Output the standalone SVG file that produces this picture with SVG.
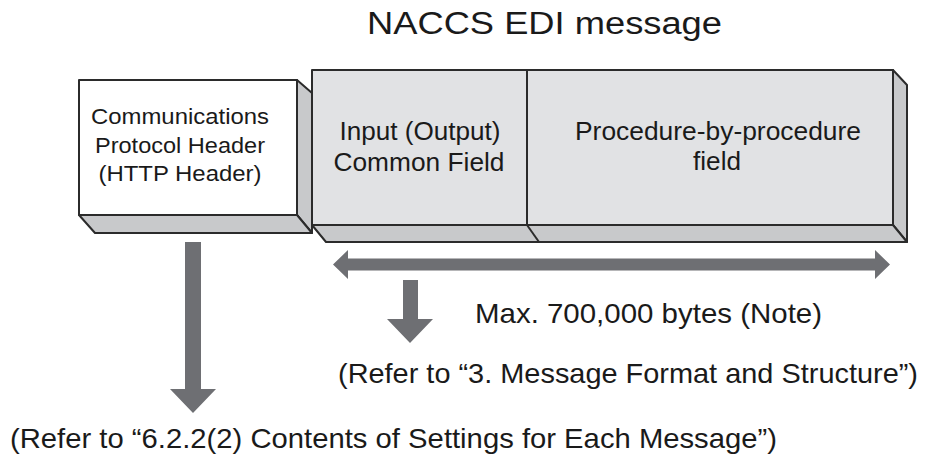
<svg xmlns="http://www.w3.org/2000/svg" width="927" height="456" viewBox="0 0 927 456">
<style>
.t{font-family:"Liberation Sans",Arial,sans-serif;fill:#1a1a1a}
.front{fill:#e1e2e4;stroke:#2b2b2b;stroke-width:2;stroke-linejoin:round}
.white{fill:#ffffff;stroke:#2b2b2b;stroke-width:2;stroke-linejoin:round}
.side{fill:#c8c9cb;stroke:#2b2b2b;stroke-width:2;stroke-linejoin:round}
.arrow{fill:#6e6f73}
</style>
<rect width="927" height="456" fill="#ffffff"/>
<text class="t" x="367" y="34" font-size="31" textLength="355" lengthAdjust="spacingAndGlyphs">NACCS EDI message</text>
<g id="http-header">
<polygon class="side" points="297,80 312,93 312,233 297,215"/>
<polygon class="side" points="79,215 297,215 312,233 95,233"/>
<rect class="white" x="79" y="80" width="218" height="135"/>
<g class="t" font-size="22" text-anchor="middle">
<text x="180" y="124" textLength="178" lengthAdjust="spacingAndGlyphs">Communications</text>
<text x="180" y="153" textLength="170" lengthAdjust="spacingAndGlyphs">Protocol Header</text>
<text x="180" y="181" textLength="163" lengthAdjust="spacingAndGlyphs">(HTTP Header)</text>
</g>
</g>
<g id="edi-message">
<polygon class="side" points="893,70 907,85 907,242 893,225"/>
<polygon class="side" points="312,225 893,225 907,242 326,242"/>
<line x1="527" y1="225" x2="539" y2="242" stroke="#2b2b2b" stroke-width="2"/>
<g id="common-field">
<rect class="front" x="312" y="70" width="215" height="155"/>
<g class="t" font-size="25" text-anchor="middle">
<text x="420" y="140" textLength="161" lengthAdjust="spacingAndGlyphs">Input (Output)</text>
<text x="419" y="171" textLength="171" lengthAdjust="spacingAndGlyphs">Common Field</text>
</g>
</g>
<g id="procedure-field">
<rect class="front" x="527" y="70" width="366" height="155"/>
<g class="t" font-size="25" text-anchor="middle">
<text x="718" y="140" textLength="286" lengthAdjust="spacingAndGlyphs">Procedure-by-procedure</text>
<text x="717" y="170" textLength="48" lengthAdjust="spacingAndGlyphs">field</text>
</g>
</g>
</g>
<g id="connectors">
<polygon class="arrow" points="333,264.5 348,250 348,258.5 875,258.5 875,250 890,264.5 875,279 875,270.5 348,270.5 348,279"/>
<polygon class="arrow" points="403,280 418,280 418,319 433,319 410,343 387,319 403,319"/>
<polygon class="arrow" points="185,242 201,242 201,389 216,389 193,413 170,389 185,389"/>
</g>
<g class="t" font-size="28">
<text x="475" y="323" textLength="347" lengthAdjust="spacingAndGlyphs">Max. 700,000 bytes (Note)</text>
<text x="338" y="383" textLength="580" lengthAdjust="spacingAndGlyphs">(Refer to “3. Message Format and Structure”)</text>
<text x="10" y="448" textLength="767" lengthAdjust="spacingAndGlyphs">(Refer to “6.2.2(2) Contents of Settings for Each Message”)</text>
</g>
</svg>
